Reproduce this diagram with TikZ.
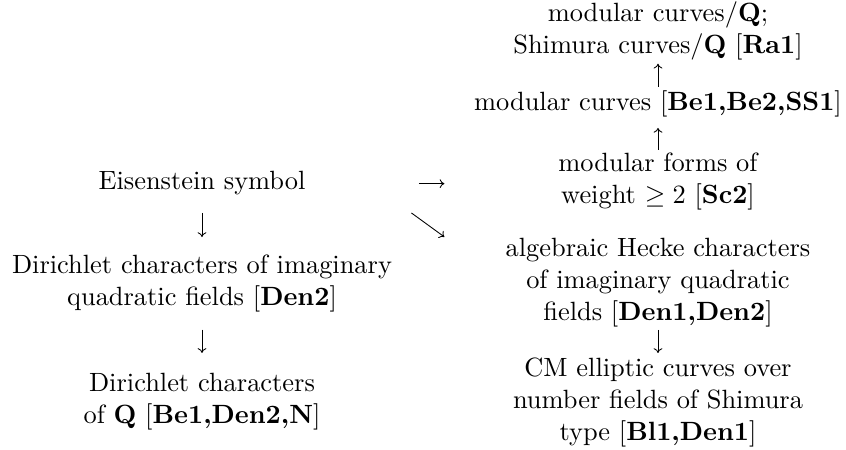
\documentclass[tikz,border=0pt]{standalone}
\usetikzlibrary{arrows.meta}
% centred multi-line block whose baseline is the first line
\newcommand{\blockstack}[1]{\begin{tabular}[t]{@{}c@{}}#1\end{tabular}}
\begin{document}
\begin{tikzpicture}[x=0.3788pt,y=-0.3788pt,
  blk/.style={inner sep=0pt,outer sep=0pt,anchor=base},
  arr/.style={line width=0.33pt,-{Computer Modern Rightarrow[length=1.8pt,width=3.3pt]}}]
\useasboundingbox (0,0) rectangle (846,450);

% right column
\node[blk] (A) at (658,22) {\blockstack{modular curves/$\mathbf{Q}$;\\ Shimura curves/$\mathbf{Q}$ [\textbf{Ra1}]}};
\node[blk] (B) at (658,111) {\blockstack{modular curves [\textbf{Be1,Be2,SS1}]}};
\node[blk] (C) at (658,172) {\blockstack{modular forms of\\ weight $\geq 2$ [\textbf{Sc2}]}};
\node[blk] (H) at (658,257) {\blockstack{algebraic Hecke characters\\ of imaginary quadratic\\ fields [\textbf{Den1,Den2}]}};
\node[blk] (M) at (658,377) {\blockstack{CM elliptic curves over\\ number fields of Shimura\\ type [\textbf{Bl1,Den1}]}};

% left column
\node[blk] (E) at (202,190) {\blockstack{Eisenstein symbol}};
\node[blk] (D1) at (202,274) {\blockstack{Dirichlet characters of imaginary\\ quadratic fields [\textbf{Den2}]}};
\node[blk] (D2) at (202,392) {\blockstack{Dirichlet characters\\ of $\mathbf{Q}$ [\textbf{Be1,Den2,N}]}};

% arrows
\draw[arr, shorten <=0.7pt, shorten >=0.2pt] (B.north) -- (A.south);
\draw[arr, shorten >=2.8pt] (C.north) -- (B.south);
\draw[arr, shorten >=0.7pt] (H.south) -- (M.north);
\draw[arr, shorten <=5.1pt, shorten >=5.6pt] (E.south) -- (D1.north);
\draw[arr, shorten <=5.5pt, shorten >=6.4pt] (D1.south) -- (D2.north);
\draw[arr, shorten <=43pt, shorten >=43.2pt] (E.east) -- (E.east -| C.west);
\draw[arr] ([shift={(106,29.3)}]E.east) -- ([shift={(139,53.3)}]E.east);
\end{tikzpicture}
\end{document}
